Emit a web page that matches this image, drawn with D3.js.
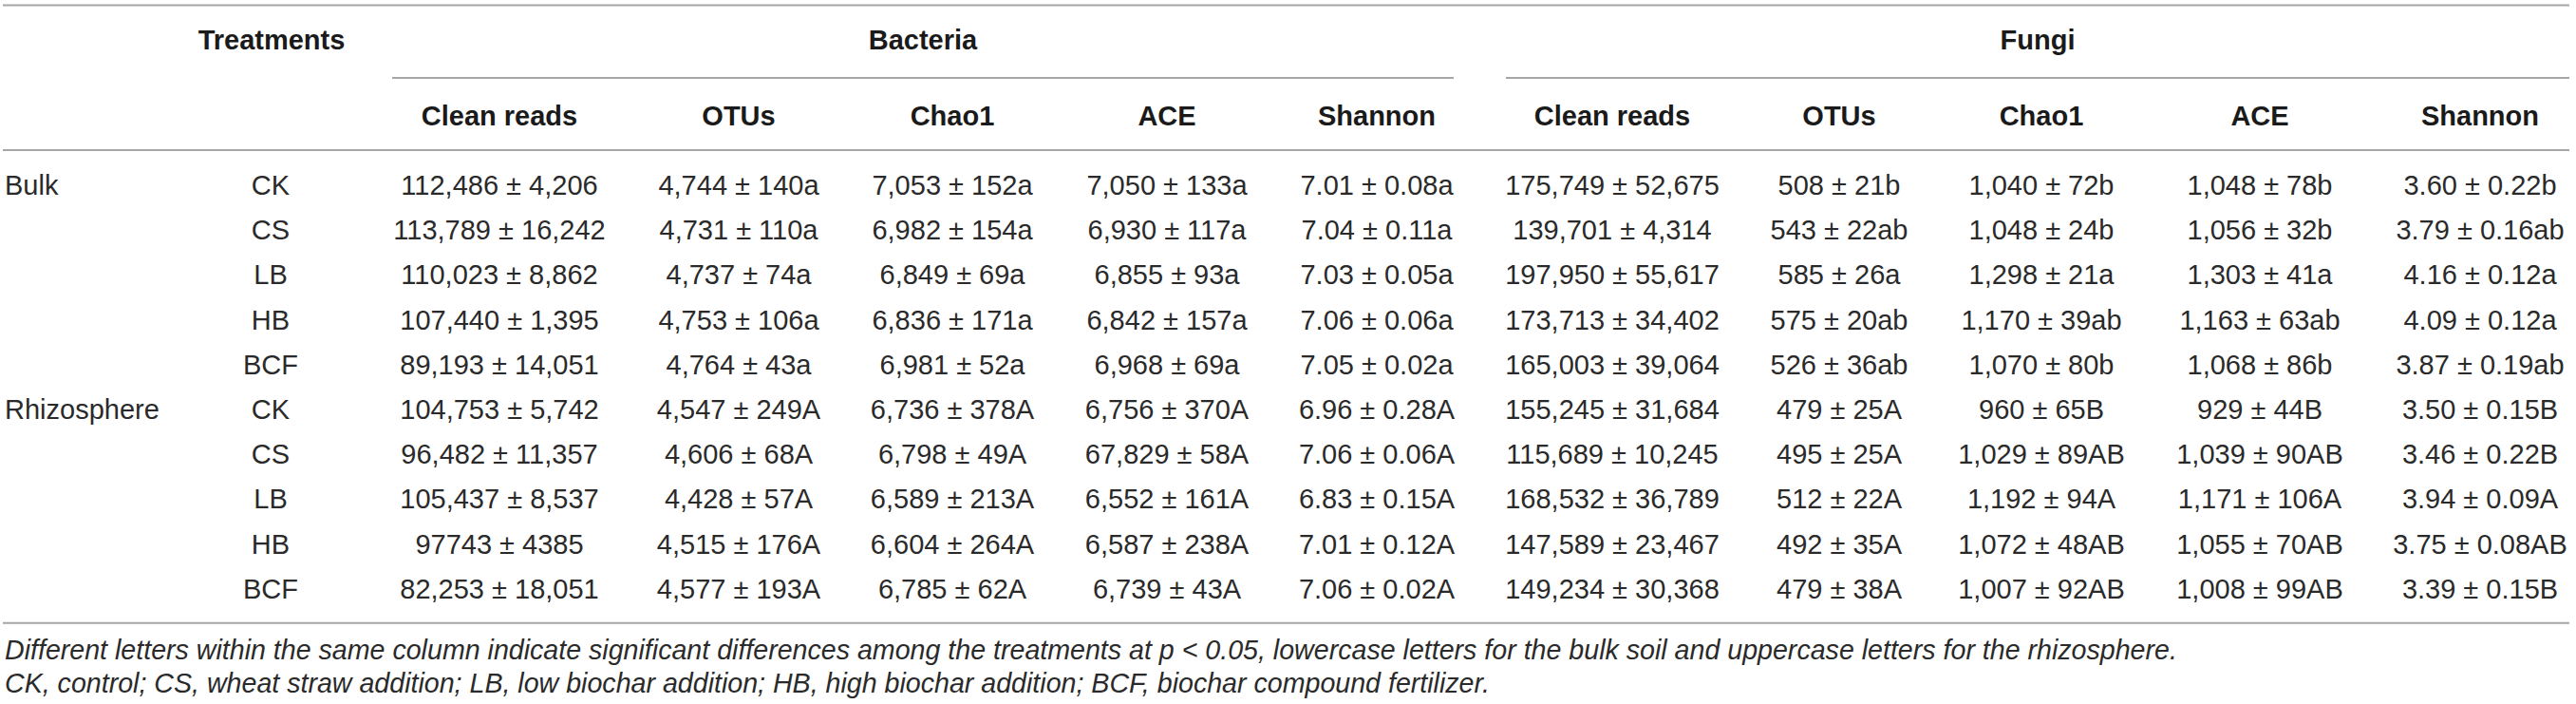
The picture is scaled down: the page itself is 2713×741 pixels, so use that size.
<!DOCTYPE html>
<html>
<head>
<meta charset="utf-8">
<script src="https://cdn.jsdelivr.net/npm/d3@7"></script>
<style>
  body { margin: 0; background: #fff; }
  text { font-family: "Liberation Sans", Arial, Helvetica, sans-serif; }
</style>
</head>
<body>
<div class="demo"></div>
<script>
const w = 2713, h = 741;

// table content
const groups = ['Bacteria', 'Fungi'];
const metrics = ['Clean reads', 'OTUs', 'Chao1', 'ACE', 'Shannon'];
const soils = ['Bulk', 'Rhizosphere'];
const treatments = ['CK', 'CS', 'LB', 'HB', 'BCF'];

const bacReads = ['112,486 ± 4,206', '113,789 ± 16,242', '110,023 ± 8,862', '107,440 ± 1,395', '89,193 ± 14,051',
                  '104,753 ± 5,742', '96,482 ± 11,357', '105,437 ± 8,537', '97743 ± 4385', '82,253 ± 18,051'];
const bacOTUs  = ['4,744 ± 140a', '4,731 ± 110a', '4,737 ± 74a', '4,753 ± 106a', '4,764 ± 43a',
                  '4,547 ± 249A', '4,606 ± 68A', '4,428 ± 57A', '4,515 ± 176A', '4,577 ± 193A'];
const bacChao1 = ['7,053 ± 152a', '6,982 ± 154a', '6,849 ± 69a', '6,836 ± 171a', '6,981 ± 52a',
                  '6,736 ± 378A', '6,798 ± 49A', '6,589 ± 213A', '6,604 ± 264A', '6,785 ± 62A'];
const bacACE   = ['7,050 ± 133a', '6,930 ± 117a', '6,855 ± 93a', '6,842 ± 157a', '6,968 ± 69a',
                  '6,756 ± 370A', '67,829 ± 58A', '6,552 ± 161A', '6,587 ± 238A', '6,739 ± 43A'];
const bacShannon = ['7.01 ± 0.08a', '7.04 ± 0.11a', '7.03 ± 0.05a', '7.06 ± 0.06a', '7.05 ± 0.02a',
                    '6.96 ± 0.28A', '7.06 ± 0.06A', '6.83 ± 0.15A', '7.01 ± 0.12A', '7.06 ± 0.02A'];
const funReads = ['175,749 ± 52,675', '139,701 ± 4,314', '197,950 ± 55,617', '173,713 ± 34,402', '165,003 ± 39,064',
                  '155,245 ± 31,684', '115,689 ± 10,245', '168,532 ± 36,789', '147,589 ± 23,467', '149,234 ± 30,368'];
const funOTUs  = ['508 ± 21b', '543 ± 22ab', '585 ± 26a', '575 ± 20ab', '526 ± 36ab',
                  '479 ± 25A', '495 ± 25A', '512 ± 22A', '492 ± 35A', '479 ± 38A'];
const funChao1 = ['1,040 ± 72b', '1,048 ± 24b', '1,298 ± 21a', '1,170 ± 39ab', '1,070 ± 80b',
                  '960 ± 65B', '1,029 ± 89AB', '1,192 ± 94A', '1,072 ± 48AB', '1,007 ± 92AB'];
const funACE   = ['1,048 ± 78b', '1,056 ± 32b', '1,303 ± 41a', '1,163 ± 63ab', '1,068 ± 86b',
                  '929 ± 44B', '1,039 ± 90AB', '1,171 ± 106A', '1,055 ± 70AB', '1,008 ± 99AB'];
const funShannon = ['3.60 ± 0.22b', '3.79 ± 0.16ab', '4.16 ± 0.12a', '4.09 ± 0.12a', '3.87 ± 0.19ab',
                    '3.50 ± 0.15B', '3.46 ± 0.22B', '3.94 ± 0.09A', '3.75 ± 0.08AB', '3.39 ± 0.15B'];

const notes = [
  'Different letters within the same column indicate significant differences among the treatments at p < 0.05, lowercase letters for the bulk soil and uppercase letters for the rhizosphere.',
  'CK, control; CS, wheat straw addition; LB, low biochar addition; HB, high biochar addition; BCF, biochar compound fertilizer.'
];

const columns = [bacReads, bacOTUs, bacChao1, bacACE, bacShannon, funReads, funOTUs, funChao1, funACE, funShannon];

// layout
const fs = 29, ink = '#2a2a2a', rule = '#a6a6a6';
const left = 3, right = 2706;
const colKeys = d3.range(columns.length);
const xCol = d3.scaleOrdinal().domain(colKeys)
    .range([526, 778, 1003, 1229, 1450, 1698, 1937, 2150, 2380, 2612]);
const xGroup = d3.scaleOrdinal().domain(groups).range([[413, 1531], [1586, right]]);
const rows = d3.range(soils.length * treatments.length);
const yRow = d3.scalePoint().domain(rows).range([194.6, 619.4]);
const yTop = 5.5, yGroupText = 42, ySub = 82, yHead = 122, yHeadRule = 158, yBottom = 655.7;

let svg = d3.select('.demo').append('svg').attr('width', w).attr('height', h);

// horizontal rules
svg.selectAll('line.full').data([yTop, yHeadRule, yBottom]).enter()
    .append('line').attr('class', 'full')
    .attr('x1', left).attr('x2', right)
    .attr('y1', d => d).attr('y2', d => d)
    .attr('stroke', rule).attr('stroke-width', 2);

svg.selectAll('line.sub').data(groups).enter()
    .append('line').attr('class', 'sub')
    .attr('x1', d => xGroup(d)[0]).attr('x2', d => xGroup(d)[1])
    .attr('y1', ySub).attr('y2', ySub)
    .attr('stroke', rule).attr('stroke-width', 2);

// headers
svg.append('text').text('Treatments')
    .attr('x', 286).attr('y', yGroupText).attr('dy', '0.36em')
    .attr('text-anchor', 'middle').attr('font-weight', 'bold')
    .attr('font-size', fs).attr('fill', '#1a1a1a');

svg.selectAll('text.group').data(groups).enter()
    .append('text').attr('class', 'group')
    .text(d => d)
    .attr('x', d => (xGroup(d)[0] + xGroup(d)[1]) / 2)
    .attr('y', yGroupText).attr('dy', '0.36em')
    .attr('text-anchor', 'middle').attr('font-weight', 'bold')
    .attr('font-size', fs).attr('fill', '#1a1a1a');

svg.selectAll('text.metric').data(colKeys).enter()
    .append('text').attr('class', 'metric')
    .text(d => metrics[d % metrics.length])
    .attr('x', d => xCol(d))
    .attr('y', yHead).attr('dy', '0.36em')
    .attr('text-anchor', 'middle').attr('font-weight', 'bold')
    .attr('font-size', fs).attr('fill', '#1a1a1a');

// row labels
svg.selectAll('text.soil').data(soils).enter()
    .append('text').attr('class', 'soil')
    .text(d => d)
    .attr('x', 5)
    .attr('y', (d, i) => yRow(i * treatments.length)).attr('dy', '0.36em')
    .attr('font-size', fs).attr('fill', ink);

svg.selectAll('text.treat').data(rows).enter()
    .append('text').attr('class', 'treat')
    .text(d => treatments[d % treatments.length])
    .attr('x', 285)
    .attr('y', d => yRow(d)).attr('dy', '0.36em')
    .attr('text-anchor', 'middle')
    .attr('font-size', fs).attr('fill', ink);

// cells
let cols = svg.selectAll('g.col').data(columns).enter()
    .append('g').attr('class', 'col')
    .attr('transform', (d, i) => 'translate(' + xCol(i) + ',0)');

cols.selectAll('text').data(d => d).enter()
    .append('text')
    .text(d => d)
    .attr('x', 0)
    .attr('y', (d, i) => yRow(i)).attr('dy', '0.36em')
    .attr('text-anchor', 'middle')
    .attr('font-size', fs).attr('fill', ink);

// footnotes
svg.selectAll('text.note').data(notes).enter()
    .append('text').attr('class', 'note')
    .text(d => d)
    .attr('x', 5)
    .attr('y', (d, i) => 683.7 + i * 35.2).attr('dy', '0.36em')
    .attr('font-style', 'italic')
    .attr('font-size', 28.6).attr('fill', ink);
</script>
</body>
</html>
